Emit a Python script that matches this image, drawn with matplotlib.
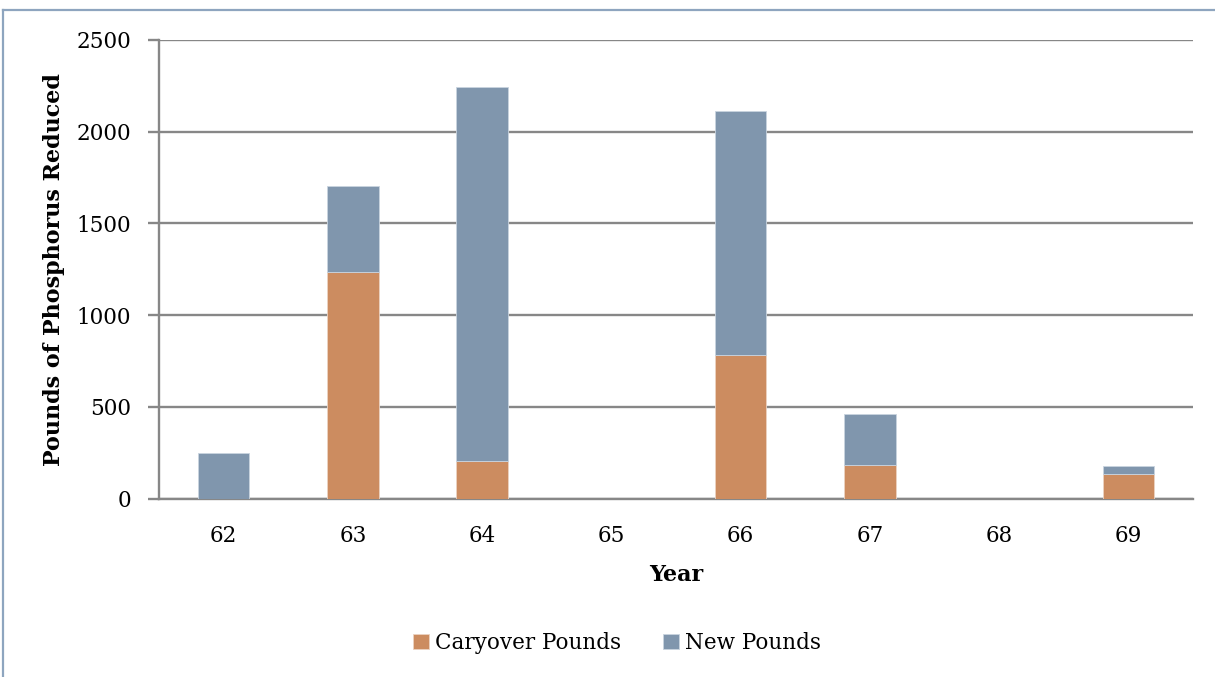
import matplotlib
matplotlib.use("Agg")
import matplotlib.pyplot as plt
from matplotlib.lines import Line2D
import numpy as np

years = ["62", "63", "64", "65", "66", "67", "68", "69"]
carryover = [0, 1233, 206, 0, 780, 183, 0, 134]
new_pounds = [250, 469, 2038, 0, 1331, 277, 0, 41]

carry_color = "#CC8C60"
new_color = "#8096AD"
grid_color = "#878787"

plt.rcParams["font.family"] = ["DejaVu Serif"]

fig = plt.figure(figsize=(12.15, 6.77), dpi=100)
ax = fig.add_axes([159 / 1215, 1 - 498.5 / 677, (1193 - 159) / 1215, (498.5 - 40) / 677])

x = np.arange(len(years))
ax.bar(x, carryover, width=0.4, color=carry_color, edgecolor="#EBD3C2",
       linewidth=0.6, label="Caryover Pounds", zorder=3)
ax.bar(x, new_pounds, width=0.4, bottom=carryover, color=new_color,
       edgecolor="#C9D4DF", linewidth=0.6, label="New Pounds", zorder=3)

ax.set_xlim(-0.5, len(years) - 0.5)
ax.set_ylim(0, 2500)
ax.set_yticks([0, 500, 1000, 1500, 2000, 2500])
ax.set_xticks(x)
ax.set_xticklabels(years)

ax.yaxis.grid(True, color=grid_color, linewidth=1.7, zorder=1)
ax.set_axisbelow(True)
for side in ("top", "right"):
    ax.spines[side].set_visible(False)
for side in ("left", "bottom"):
    ax.spines[side].set_color(grid_color)
    ax.spines[side].set_linewidth(1.7)

ax.tick_params(axis="y", length=8, width=1.7, color=grid_color, pad=12, labelsize=15.5)
ax.tick_params(axis="x", length=0, pad=19, labelsize=15.5)

ax.set_xlabel("Year", fontsize=16, fontweight="bold", labelpad=12)
ax.set_ylabel("Pounds of Phosphorus Reduced", fontsize=16, fontweight="bold", labelpad=8)

ax.legend(loc="center", bbox_to_anchor=(617 / 1215, 1 - 643 / 677),
          bbox_transform=fig.transFigure, ncol=2, frameon=False, fontsize=15.5,
          handlelength=0.75, handleheight=0.75, handletextpad=0.3, columnspacing=1.9)

# thin frame along the top and left of the figure
fig.add_artist(Line2D([3 / 1215, 3 / 1215], [0, 1 - 10 / 677], transform=fig.transFigure,
                      color="#8EA5BF", linewidth=1.6))
fig.add_artist(Line2D([3 / 1215, 1], [1 - 10 / 677, 1 - 10 / 677], transform=fig.transFigure,
                      color="#8EA5BF", linewidth=1.6))

fig.savefig("out.png", dpi=100)
